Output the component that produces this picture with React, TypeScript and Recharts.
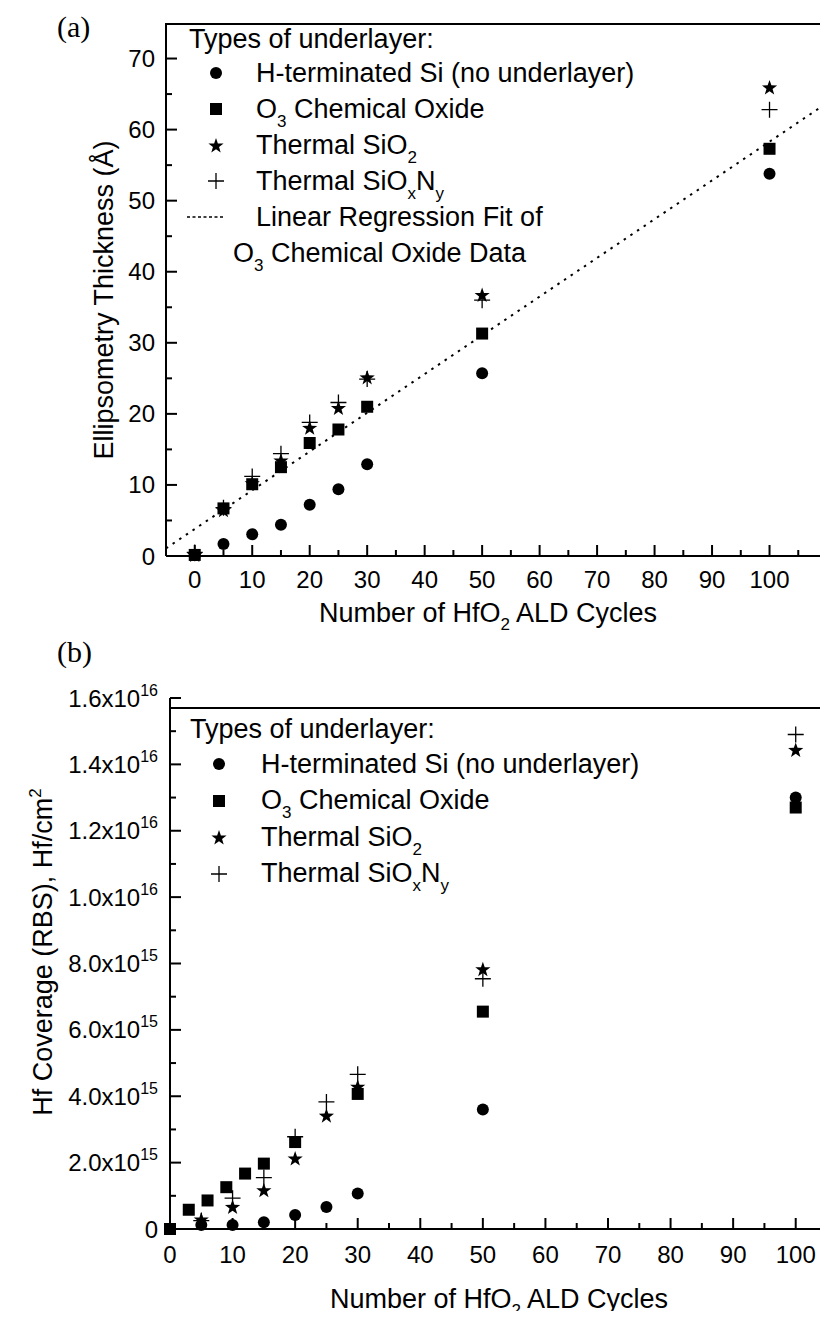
import React from "react";
import { Legend, Scatter, ScatterChart, XAxis, YAxis } from "recharts";

const FONT = "'Liberation Sans', Arial, Helvetica, sans-serif";
const SERIF = "'Liberation Serif', 'Times New Roman', serif";
const INK = "#000";

// (a) ellipsometry thickness in Å
const cyclesA = [0, 5, 10, 15, 20, 25, 30, 50, 100];
const hSiA = [0.1, 1.7, 3.05, 4.4, 7.2, 9.4, 12.9, 25.7, 53.8];
const o3A = [0.15, 6.7, 10.1, 12.5, 15.9, 17.8, 21.0, 31.3, 57.3];
const sio2A = [0.2, 6.5, 10.3, 13.5, 18.1, 20.9, 25.2, 36.8, 66.0];
const sionA = [0.5, 6.8, 11.2, 14.4, 18.8, 21.6, 24.9, 36.0, 62.8];
// linear regression of the O3 chemical oxide series
const fitSlope = 0.545;
const fitIntercept = 3.8;

const xDomainA = [-5, 110];
const yDomainA = [0, 75];
const xMajorA = [0, 10, 20, 30, 40, 50, 60, 70, 80, 90, 100];
const xMinorA = [5, 15, 25, 35, 45, 55, 65, 75, 85, 95, 105];
const yMajorA = [0, 10, 20, 30, 40, 50, 60, 70];
const yMinorA = [5, 15, 25, 35, 45, 55, 65];

// (b) RBS Hf coverage in Hf/cm2
const cyclesO3B = [0, 3, 6, 9, 12, 15, 20, 30, 50, 100];
const o3B = [0, 0.58e15, 0.86e15, 1.26e15, 1.67e15, 1.97e15, 2.62e15, 4.07e15, 6.55e15, 1.27e16];
const cyclesB = [5, 10, 15, 20, 25, 30, 50, 100];
const hSiB = [0.12e15, 0.12e15, 0.2e15, 0.42e15, 0.66e15, 1.07e15, 3.6e15, 1.3e16];
const sio2B = [0.3e15, 0.68e15, 1.18e15, 2.14e15, 3.43e15, 4.3e15, 7.84e15, 1.445e16];
const sionB = [0.25e15, 0.93e15, 1.55e15, 2.78e15, 3.83e15, 4.66e15, 7.54e15, 1.49e16];

const xDomainB = [0, 105];
const yDomainB = [0, 1.6e16];
const xMajorB = [0, 10, 20, 30, 40, 50, 60, 70, 80, 90, 100];
const xMinorB = [5, 15, 25, 35, 45, 55, 65, 75, 85, 95];
const yMajorB = [0, 2e15, 4e15, 6e15, 8e15, 1e16, 1.2e16, 1.4e16, 1.6e16];
const yMinorB = [1e15, 3e15, 5e15, 7e15, 9e15, 1.1e16, 1.3e16, 1.5e16];

const seriesNames = [
  "H-terminated Si (no underlayer)",
  "O_{3} Chemical Oxide",
  "Thermal SiO_{2}",
  "Thermal SiO_{x}N_{y}",
];

const pts = (xs: number[], ys: number[]) => xs.map((x, i) => ({ x, y: ys[i] }));
const allTicks = (a: number[], b: number[]) => [...a, ...b].sort((p, q) => p - q);

// "_{..}" subscript, "^{..}" superscript
type Piece = { t: string; k: string };
function split(s: string): Piece[] {
  const out: Piece[] = [];
  const re = /([_^])\{([^}]*)\}/g;
  let last = 0;
  let m: RegExpExecArray | null;
  while ((m = re.exec(s))) {
    if (m.index > last) out.push({ t: s.slice(last, m.index), k: "" });
    out.push({ t: m[2], k: m[1] });
    last = re.lastIndex;
  }
  if (last < s.length) out.push({ t: s.slice(last), k: "" });
  return out;
}

function svgRich(s: string, size: number, small: number) {
  let shift = 0;
  return split(s).map((p, i) => {
    const target = p.k === "_" ? 8 : p.k === "^" ? -11 : 0;
    const dy = target - shift;
    shift = target;
    return (
      <tspan key={i} dy={dy} fontSize={p.k ? small : size}>
        {p.t}
      </tspan>
    );
  });
}

function htmlRich(s: string) {
  return split(s).map((p, i) =>
    p.k ? (
      <span key={i} style={{ fontSize: 17, position: "relative", top: p.k === "_" ? 9 : -11, lineHeight: 0 }}>
        {p.t}
      </span>
    ) : (
      <span key={i}>{p.t}</span>
    )
  );
}

const sci = (v: number) => {
  if (v === 0) return "0";
  const e = Math.floor(Math.log10(v) + 1e-9);
  return `${(v / 10 ** e).toFixed(1)}x10^{${e}}`;
};

// markers
const Dot = (p: any) => <circle cx={p.cx} cy={p.cy} r={6} fill={INK} />;
const Square = (p: any) => <rect x={p.cx - 6} y={p.cy - 6} width={12} height={12} fill={INK} />;
function starPath(cx: number, cy: number, R: number, r: number) {
  let d = "";
  for (let k = 0; k < 10; k++) {
    const a = -Math.PI / 2 + (k * Math.PI) / 5;
    const rad = k % 2 ? r : R;
    d += (k ? "L" : "M") + (cx + rad * Math.cos(a)).toFixed(2) + "," + (cy + rad * Math.sin(a)).toFixed(2);
  }
  return d + "Z";
}
const Star = (p: any) => <path d={starPath(p.cx, p.cy + 1, 8, 3.2)} fill={INK} />;
const Plus = (p: any) => (
  <path
    d={`M${p.cx - 8},${p.cy}H${p.cx + 8}M${p.cx},${p.cy - 8}V${p.cy + 8}`}
    stroke={INK}
    strokeWidth={1.3}
    fill="none"
  />
);
const Blank = () => <g />;
const marks = [Dot, Square, Star, Plus];

// inward ticks
const bottomTick = (majors: number[], labelDy: number) => (p: any) => {
  const major = majors.includes(p.payload.value);
  return (
    <g>
      <line x1={p.x} x2={p.x} y1={p.y} y2={p.y - (major ? 11 : 6)} stroke={INK} strokeWidth={2} />
      {major && (
        <text x={p.x} y={p.y + labelDy} textAnchor="middle" fontFamily={FONT} fontSize={24} fill={INK}>
          {p.payload.value}
        </text>
      )}
    </g>
  );
};

const leftTick = (majors: number[], fmt: (v: number) => string, gap: number) => (p: any) => {
  const major = majors.includes(p.payload.value);
  return (
    <g>
      <line x1={p.x} x2={p.x + (major ? 11 : 6)} y1={p.y} y2={p.y} stroke={INK} strokeWidth={2} />
      {major && (
        <text x={p.x - gap} y={p.y + 8.5} textAnchor="end" fontFamily={FONT} fontSize={24} fill={INK}>
          {svgRich(fmt(p.payload.value), 24, 16)}
        </text>
      )}
    </g>
  );
};

const rightTick = (majors: number[]) => (p: any) => {
  const major = majors.includes(p.payload.value);
  return <line x1={p.x} x2={p.x - (major ? 11 : 6)} y1={p.y} y2={p.y} stroke={INK} strokeWidth={2} />;
};

// frame sides, run through the axis scales just inside the domain corners
const edge = (xs: number[], ys: number[], w: number) => (
  <Scatter
    data={pts(xs, ys)}
    shape={Blank}
    line={{ stroke: INK, strokeWidth: w }}
    legendType="none"
    isAnimationActive={false}
  />
);

function Title({ x, y, s, rotate }: { x: number; y: number; s: string; rotate?: boolean }) {
  return (
    <text
      x={x}
      y={y}
      textAnchor="middle"
      fontFamily={FONT}
      fontSize={27}
      fill={INK}
      transform={rotate ? `rotate(-90 ${x} ${y})` : undefined}
    >
      {svgRich(s, 27, 17)}
    </text>
  );
}

type KeyRow = { mark?: (p: any) => React.ReactElement; dash?: boolean; label: string; pad?: number };

function KeyBox({ rows, titleH, rowH, markW, titlePad }: { rows: KeyRow[]; titleH: number; rowH: number; markW: number; titlePad: number }) {
  return (
    <div style={{ fontFamily: FONT, fontSize: 27, color: INK, whiteSpace: "nowrap", textAlign: "left" }}>
      <div style={{ height: titleH, lineHeight: `${titleH}px`, paddingLeft: titlePad }}>Types of underlayer:</div>
      {rows.map((r, i) => (
        <div key={i} style={{ height: rowH, display: "flex", alignItems: "center" }}>
          <span style={{ width: r.pad ?? markW, flex: "none", position: "relative", height: rowH }}>
            {r.mark && (
              <svg width={24} height={24} style={{ position: "absolute", left: 24, top: rowH / 2 - 12 }}>
                {r.mark({ cx: 12, cy: 12 })}
              </svg>
            )}
            {r.dash && (
              <svg width={36} height={24} style={{ position: "absolute", left: 7, top: rowH / 2 - 12 }}>
                <line x1={0} x2={36} y1={12} y2={12} stroke={INK} strokeWidth={1.5} strokeDasharray="3 2.5" />
              </svg>
            )}
          </span>
          <span>{htmlRich(r.label)}</span>
        </div>
      ))}
    </div>
  );
}

const rowsA: KeyRow[] = [
  ...seriesNames.map((label, i) => ({ mark: marks[i], label })),
  { dash: true, label: "Linear Regression Fit of" },
  { label: "O_{3} Chemical Oxide Data", pad: 53 },
];
const rowsB: KeyRow[] = seriesNames.map((label, i) => ({ mark: marks[i], label }));

function PanelA() {
  const [x0, x1] = xDomainA;
  const [y0, y1] = yDomainA;
  const top = y1 - 0.15;
  const right = x1 - 0.12;
  return (
    <ScatterChart width={828} height={640} margin={{ top: 23, right: 1, bottom: 0, left: 0 }}>
      <XAxis
        type="number"
        dataKey="x"
        domain={xDomainA}
        ticks={allTicks(xMajorA, xMinorA)}
        interval={0}
        height={84}
        axisLine={{ stroke: INK, strokeWidth: 2 }}
        tickLine={false}
        tickSize={0}
        tickMargin={0}
        tick={bottomTick(xMajorA, 32)}
        label={{ content: () => <Title x={488} y={622} s="Number of HfO_{2} ALD Cycles" /> }}
      />
      <YAxis
        type="number"
        dataKey="y"
        domain={yDomainA}
        ticks={allTicks(yMajorA, yMinorA)}
        interval={0}
        width={166}
        axisLine={{ stroke: INK, strokeWidth: 2 }}
        tickLine={false}
        tickSize={0}
        tickMargin={0}
        tick={leftTick(yMajorA, String, 11)}
        label={{ content: () => <Title x={113} y={300} rotate s="Ellipsometry Thickness (Å)" /> }}
      />
      {edge([x0, x1], [top, top], 2)}
      {edge([right, right], [y1, y0], 1.2)}
      <Scatter
        data={pts(xDomainA, xDomainA.map((c) => fitIntercept + fitSlope * c))}
        shape={Blank}
        line={{ stroke: INK, strokeWidth: 2, strokeDasharray: "2.5 5.5" }}
        legendType="none"
        isAnimationActive={false}
      />
      <Scatter data={pts(cyclesA, hSiA)} shape={Dot} isAnimationActive={false} />
      <Scatter data={pts(cyclesA, o3A)} shape={Square} isAnimationActive={false} />
      <Scatter data={pts(cyclesA, sio2A)} shape={Star} isAnimationActive={false} />
      <Scatter data={pts(cyclesA, sionA)} shape={Plus} isAnimationActive={false} />
      <Legend
        layout="vertical"
        align="center"
        verticalAlign="middle"
        wrapperStyle={{ left: 180, top: 23, width: "auto", height: "auto" }}
        content={() => <KeyBox rows={rowsA} titleH={32} rowH={36} markW={76} titlePad={9} />}
      />
    </ScatterChart>
  );
}

function PanelB() {
  const [x0, x1] = xDomainB;
  const top = yDomainB[1] - 0.03e16;
  return (
    <ScatterChart width={828} height={679} margin={{ top: 58, right: 0, bottom: 0, left: 0 }}>
      <XAxis
        type="number"
        dataKey="x"
        domain={xDomainB}
        ticks={allTicks(xMajorB, xMinorB)}
        interval={0}
        height={90}
        axisLine={{ stroke: INK, strokeWidth: 2 }}
        tickLine={false}
        tickSize={0}
        tickMargin={0}
        tick={bottomTick(xMajorB, 34)}
        label={{ content: () => <Title x={499} y={668} s="Number of HfO_{2} ALD Cycles" /> }}
      />
      <YAxis
        type="number"
        dataKey="y"
        domain={yDomainB}
        ticks={allTicks(yMajorB, yMinorB)}
        interval={0}
        width={170}
        axisLine={{ stroke: INK, strokeWidth: 2 }}
        tickLine={false}
        tickSize={0}
        tickMargin={0}
        tick={leftTick(yMajorB, sci, 12)}
        label={{ content: () => <Title x={52} y={312} rotate s="Hf Coverage (RBS), Hf/cm^{2}" /> }}
      />
      <YAxis
        yAxisId="right"
        orientation="right"
        type="number"
        domain={yDomainB}
        ticks={allTicks(yMajorB, yMinorB)}
        interval={0}
        width={1}
        axisLine={{ stroke: INK, strokeWidth: 1.5 }}
        tickLine={false}
        tickSize={0}
        tickMargin={0}
        tick={rightTick(yMajorB)}
      />
      {edge([x0, x1], [top, top], 2)}
      <Scatter data={pts(cyclesB, hSiB)} shape={Dot} isAnimationActive={false} />
      <Scatter data={pts(cyclesO3B, o3B)} shape={Square} isAnimationActive={false} />
      <Scatter data={pts(cyclesB, sio2B)} shape={Star} isAnimationActive={false} />
      <Scatter data={pts(cyclesB, sionB)} shape={Plus} isAnimationActive={false} />
      <Legend
        layout="vertical"
        align="center"
        verticalAlign="middle"
        wrapperStyle={{ left: 183, top: 72, width: "auto", height: "auto" }}
        content={() => <KeyBox rows={rowsB} titleH={34} rowH={36.5} markW={78} titlePad={7} />}
      />
    </ScatterChart>
  );
}

export default function App() {
  return (
    <div style={{ position: "relative", width: 828, height: 1319, margin: -8, background: "#fff" }}>
      <div style={{ position: "absolute", left: 0, top: 0 }}>
        <PanelA />
      </div>
      <div style={{ position: "absolute", left: 0, top: 640 }}>
        <PanelB />
      </div>
      <div style={{ position: "absolute", left: 57, top: 11, fontFamily: SERIF, fontSize: 30, lineHeight: "32px" }}>(a)</div>
      <div style={{ position: "absolute", left: 57, top: 636, fontFamily: SERIF, fontSize: 30, lineHeight: "32px" }}>(b)</div>
    </div>
  );
}
